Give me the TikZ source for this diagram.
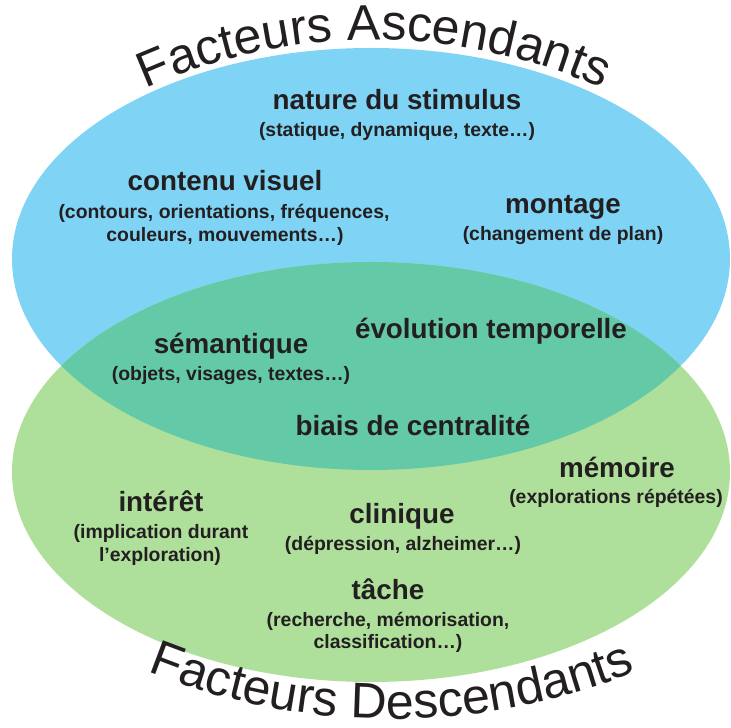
\documentclass[tikz,border=0pt]{standalone}
\usepackage{fontspec}
\setmainfont{Liberation Sans}
\usetikzlibrary{decorations.text}
\definecolor{blueA}{HTML}{7FD4F5}
\definecolor{greenD}{HTML}{AEE09C}
\definecolor{mixC}{HTML}{64C9A6}
\definecolor{txt}{HTML}{231F20}
\tikzset{
  ttl/.style={anchor=base, inner sep=0pt, text=txt, font=\bfseries\fontsize{27.8}{30}\selectfont},
  sub/.style={anchor=base, inner sep=0pt, text=txt, font=\bfseries\fontsize{19.4}{23}\selectfont},
}
\begin{document}
\begin{tikzpicture}[x=1pt,y=1pt]
\useasboundingbox (0,0) rectangle (731,728);
% ellipses
\fill[blueA] (371,469) ellipse[x radius=359, y radius=211];
\fill[greenD] (371,256) ellipse[x radius=359, y radius=210];
\begin{scope}
  \clip (371,469) ellipse[x radius=359, y radius=211];
  \fill[mixC] (371,256) ellipse[x radius=359, y radius=210];
\end{scope}
% curved titles
\coordinate (ca) at (374,130);
\path[decorate, decoration={text along path, text align=center,
  text={|\fontsize{50}{50}\selectfont\color{txt}|Facteurs Ascendants}}]
  (ca) ++(130:558) arc[start angle=130, end angle=50, radius=558];
\coordinate (cd) at (392,662);
\path[decorate, decoration={text along path, text align=center,
  text={|\fontsize{50}{50}\selectfont\color{txt}|Facteurs Descendants}}]
  (cd) ++(230:653) arc[start angle=230, end angle=310, radius=653];
% top only
\node[ttl] (nat) at (397,618) {nature du stimulus};
\node[sub] (natS) at (397,591) {(statique, dynamique, texte…)};
\node[ttl] (cont) at (225,537) {contenu visuel};
\node[sub] (contS1) at (224,509) {(contours, orientations, fréquences,};
\node[sub] (contS2) at (225,486) {couleurs, mouvements…)};
\node[ttl] (mont) at (563,514) {montage};
\node[sub] (montS) at (563,487) {(changement de plan)};
% overlap
\node[ttl] (sem) at (231,374) {sémantique};
\node[sub] (semS) at (231,347) {(objets, visages, textes…)};
\node[ttl] (evo) at (491,389) {évolution temporelle};
\node[ttl] (biais) at (413,292) {biais de centralité};
% bottom only
\node[ttl] (mem) at (617,250) {mémoire};
\node[sub] (memS) at (616,224) {(explorations répétées)};
\node[ttl] (int) at (161,216) {intérêt};
\node[sub] (intS1) at (161,189) {(implication durant};
\node[sub] (intS2) at (160,166) {l’exploration)};
\node[ttl] (clin) at (402,204) {clinique};
\node[sub] (clinS) at (403,177) {(dépression, alzheimer…)};
\node[ttl] (tache) at (388,128) {tâche};
\node[sub] (tacheS1) at (388,101) {(recherche, mémorisation,};
\node[sub] (tacheS2) at (388,79) {classification…)};
\end{tikzpicture}
\end{document}
